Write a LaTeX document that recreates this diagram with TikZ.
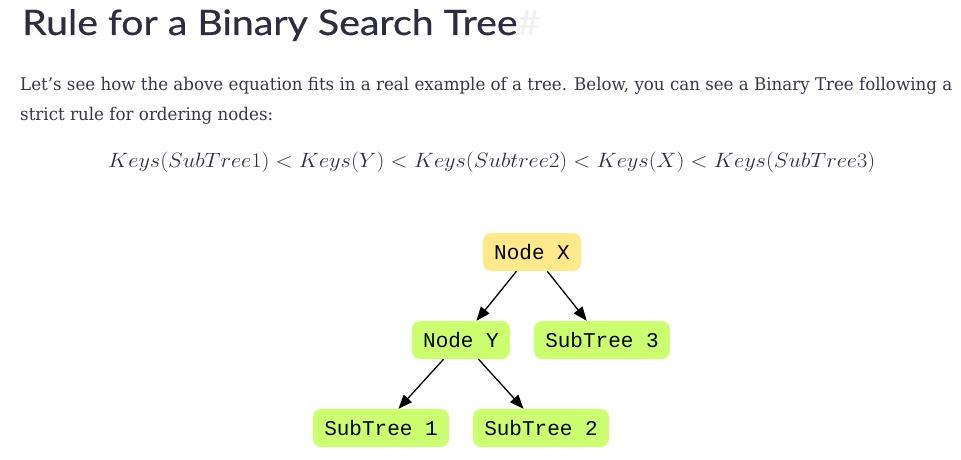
\documentclass[tikz,border=0pt]{standalone}
\usepackage{graphicx,xcolor}
\usepackage{fontspec}
\setmainfont{DejaVu Serif}
\newfontfamily\headfont[FakeBold=0.5]{Lato}
\newfontfamily\keyfont{Liberation Mono}
\definecolor{headnavy}{RGB}{46,45,63}
\definecolor{bodygray}{RGB}{55,55,70}
\definecolor{hashgray}{RGB}{240,240,242}
\definecolor{rootyellow}{RGB}{255,233,138}
\definecolor{leafgreen}{RGB}{204,255,112}
\usetikzlibrary{arrows.meta,positioning}

\begin{document}
\begin{tikzpicture}[x=1pt, y=-1pt,
    keynode/.style={rectangle, rounded corners=8pt, minimum height=38pt, inner sep=0pt,
      draw=none, font=\keyfont\fontsize{21}{21}\selectfont},
    root/.style={keynode, fill=rootyellow, minimum width=98pt},
    inner/.style={keynode, fill=leafgreen, minimum width=98pt},
    leaf/.style={keynode, fill=leafgreen, minimum width=136pt},
    edge/.style={-{Triangle[length=14pt,width=11pt]}, line width=1.3pt, black}
  ]
    \useasboundingbox (0,0) rectangle (961,460);

    % heading and text
    \node[anchor=base west, inner sep=0pt, text=headnavy] (title) at (22,35)
      {\resizebox{518pt}{\height}{\headfont\fontsize{35}{35}\selectfont Rule for a Binary Search Tree\textcolor{hashgray}{\#}}};
    \node[anchor=base west, inner sep=0pt, text=bodygray] (line1) at (20,91)
      {\resizebox{932pt}{\height}{\fontsize{17.5}{17.5}\selectfont Let’s see how the above equation fits in a real example of a tree. Below, you can see a Binary Tree following a}};
    \node[anchor=base west, inner sep=0pt, text=bodygray] (line2) at (20,120)
      {\resizebox{253pt}{\height}{\fontsize{17.5}{17.5}\selectfont strict rule for ordering nodes:}};
    \node[anchor=base west, inner sep=0pt, text=headnavy] (rule) at (108,167)
      {\resizebox{767pt}{\height}{\fontsize{20}{20}\selectfont $Keys(SubTree1) < Keys(Y) < Keys(Subtree2) < Keys(X) < Keys(SubTree3)$}};

    % Row 1
    \node[root] (x) at (532,252) {Node X};

    % Row 2
    \node[inner] (y) at (461,340) {Node Y};
    \node[leaf] (s3) at (602,340) {SubTree 3};

    % Row 3
    \node[leaf] (s1) at (381,428) {SubTree 1};
    \node[leaf] (s2) at (541,428) {SubTree 2};

    \draw[edge] (x) -- (y);
    \draw[edge] (x) -- (s3);
    \draw[edge] (y) -- (s1);
    \draw[edge] (y) -- (s2);

  \end{tikzpicture}
\end{document}
